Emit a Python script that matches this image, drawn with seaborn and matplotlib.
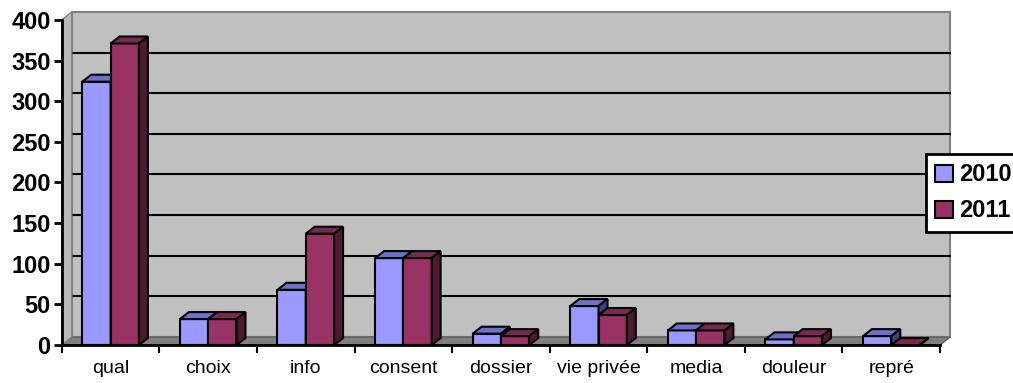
import seaborn as sns
import pandas as pd
import matplotlib.pyplot as plt
from matplotlib.patches import Polygon, Rectangle

# Data
categories = ['qual', 'choix', 'info', 'consent', 'dossier', 'vie privée', 'media', 'douleur', 'repré']
v2010 = [324, 32, 68, 107, 14, 48, 18, 7, 11]
v2011 = [371, 32, 137, 107, 11, 37, 18, 11, 0]
years = ['2010', '2011']
yticks = [0, 50, 100, 150, 200, 250, 300, 350, 400]

front = {'2010': '#9999FF', '2011': '#993366'}
top = {'2010': '#6F6FCC', '2011': '#7A2952'}
side = {'2010': '#3F3F8C', '2011': '#4D1933'}

data = pd.DataFrame({
    'cat': categories * 2,
    'val': v2010 + v2011,
    'year': ['2010'] * len(categories) + ['2011'] * len(categories),
})

plt.rcParams['font.family'] = ['Liberation Sans', 'DejaVu Sans']
fig = plt.figure(figsize=(10.13, 3.83), dpi=100)
ax = fig.add_axes([0.061, 0.099, 0.867, 0.849])
ax.set_facecolor('none')

sns.barplot(data=data, x='cat', y='val', hue='year', palette=front, width=0.58,
            saturation=1, edgecolor='black', linewidth=1.5, ax=ax, legend=False, zorder=2)

ax.set_xlim(-0.5, len(categories) - 0.5)
ax.set_ylim(0, 400)

# depth offset (pixels -> data units)
W = 0.867 * 1013
H = 0.849 * 383
dx = 9 / (W / len(categories))
dy = 7 / (H / 400)
wx, wy = 10 / (W / len(categories)), 8 / (H / 400)
x0, x1 = ax.get_xlim()

# back wall, floor, left wall
ax.add_patch(Rectangle((x0 + wx, wy), x1 - x0, 400, facecolor='#C0C0C0',
                       edgecolor='#808080', lw=1.5, zorder=0, clip_on=False))
for v in yticks[1:-1]:
    ax.plot([x0 + wx, x1 + wx], [v + wy, v + wy], color='black', lw=1.5, zorder=0.5, clip_on=False)
ax.add_patch(Polygon([(x0, 0), (x1, 0), (x1 + wx, wy), (x0 + wx, wy)], closed=True,
                     facecolor='#808080', edgecolor='#606060', lw=1, zorder=0.6, clip_on=False))
ax.add_patch(Polygon([(x0, 0), (x0 + wx, wy), (x0 + wx, 400 + wy), (x0, 400)], closed=True,
                     facecolor='#B8B8B8', edgecolor='#808080', lw=1, zorder=0.6, clip_on=False))

# 3D faces on each bar
bars = [p for p in ax.patches if isinstance(p, Rectangle) and p.get_width() < 1 and p.get_zorder() == 2]
n = len(categories)
for i, p in enumerate(bars):
    yr = years[i // n]
    z = 2 + i // n
    p.set_zorder(z)
    x, w, h = p.get_x(), p.get_width(), p.get_height()
    ax.add_patch(Polygon([(x, h), (x + w, h), (x + w + dx, h + dy), (x + dx, h + dy)], closed=True,
                         facecolor=top[yr], edgecolor='black', lw=1.5, zorder=z, clip_on=False))
    ax.add_patch(Polygon([(x + w, 0), (x + w + dx, dy), (x + w + dx, h + dy), (x + w, h)], closed=True,
                         facecolor=side[yr], edgecolor='black', lw=1.5, zorder=z, clip_on=False))

# axes styling
for s in ['top', 'right']:
    ax.spines[s].set_visible(False)
ax.spines['left'].set_linewidth(2)
ax.spines['bottom'].set_linewidth(2)
ax.spines['left'].set_zorder(5)
ax.spines['bottom'].set_zorder(5)
ax.set_yticks(yticks)
ax.set_yticklabels([str(v) for v in yticks], fontsize=17, fontweight='bold')
ax.tick_params(axis='y', length=6, width=2, pad=2)
ax.set_xticks(range(n))
ax.set_xticklabels(categories, fontsize=14)
ax.tick_params(axis='x', which='major', length=0, pad=11)
ax.set_xticks([k - 0.5 for k in range(n + 1)], minor=True)
ax.tick_params(axis='x', which='minor', length=6, width=1.5)
ax.set_xlabel('')
ax.set_ylabel('')
ax.grid(False)

handles = [Rectangle((0, 0), 1, 1, facecolor=front[y], edgecolor='black', lw=1.5) for y in years]
leg = fig.legend(handles, years, loc='upper left', bbox_to_anchor=(0.914, 0.598),
                 prop={'weight': 'bold', 'size': 17}, frameon=True, fancybox=False,
                 framealpha=1, edgecolor='black', handlelength=0.75, handleheight=0.75,
                 handletextpad=0.25, borderpad=0.4, labelspacing=0.55, borderaxespad=0)
leg.get_frame().set_linewidth(2)

fig.savefig('out.png', dpi=100)
